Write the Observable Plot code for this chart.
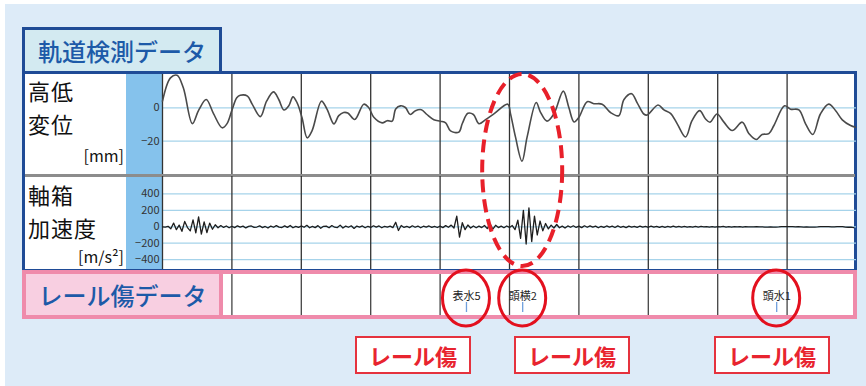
<!DOCTYPE html>
<html><head><meta charset="utf-8">
<script src="https://cdn.jsdelivr.net/npm/d3@7"></script>
<script src="https://cdn.jsdelivr.net/npm/@observablehq/plot@0.6"></script>
<style>
body{margin:0;background:#fff;font-family:"Noto Sans CJK JP","Noto Sans",sans-serif;}
#root{position:relative;width:866px;height:386px;overflow:hidden;}
.abs{position:absolute;box-sizing:border-box;}
.plot{position:absolute;}
</style></head><body><div id="root"></div>
<script>
// ---- data ----
const heightPos = [0,11.5,21,30,43,52,63,73.5,86,93,
 100,107,112,122.5,129,141,150,160,167.5,175,
 182,188,194,201,208.5,215.7,229,237,247,254,
 261,267,277,290,297,304.5,316.5,324,331,336,
 343,350,357,364.5,373,381,391,400.5,408,415,
 427,432,440,448,456,465.5,477.5,497.5,501.5,508.5,
 518,525.5,538.5,544.7,554,564,577.5,585.5,593,600,
 612,621.5,633.5,645.5,657.5,665,676,684,693.5,698.5,
 714,722.5,732,741.7,753.7,763,774,782.5,789,799,
 809,821,835.4,845,855.5,864,873.7,881,896.4,905,
 917,926.6,937,948,960,970,979.5,991.5,998.5];
const heightMM = [4,18,19.5,12,-9.5,-1.5,5,-3.5,-12,-9.5,
 -1.5,6,7.5,7,2.4,-5.3,4,9.6,5,-1.3,
 1.2,6.6,3,-5.8,-18,-13.5,4,-0.8,-9.6,-4.7,
 -2.8,-3.1,-7,2.2,0.2,-5.7,-9,-7.7,-8,-0.7,
 1.2,0.2,-4,-1.7,-1.1,-4,-7.1,-8,-9,-13.8,
 -14.6,-9.4,-3.3,-4,-9.5,-7.1,-3.6,2.2,-3.6,-17.3,
 -32,-17.3,3.2,-2.7,-8,-3.6,10,0.2,-8.5,-5.7,
 3.7,2.5,2.2,-2.8,-4.7,5,8.5,3,-3.7,-4.3,
 1.7,-1.2,-3.3,-9.6,-17.5,-7.7,-1.7,-6.7,-8.6,-3.7,
 -8.6,-13.6,-8.6,-15.5,-19,-16,-15.5,-10.6,1.2,-0.8,
 -1.2,-9.6,-16,-3.7,2.2,-1.7,-7.2,-10.6,-11.6];
const accStep = 4; // sampling interval of the acceleration record
const accValues = [
 0,-4,6,-25,45,-35,20,-55,65,-10,-50,85,-75,120,-90,60,-70,45,-30,25,-12,15,-8,10,-12,
 6,-10,12,-4,8,-14,5,10,-8,-3,12,-10,4,-15,9,-6,14,-5,-9,11,-7,16,-12,5,-8,
 10,-6,18,-12,4,-10,14,-18,6,8,-12,15,-5,-10,20,-15,9,-6,12,-20,8,-4,10,-12,6,
 -8,12,-5,10,-12,6,-4,8,-10,55,-45,15,-8,6,-10,12,-6,9,-12,7,-5,10,-8,6,-9,
 8,-10,14,-6,20,-15,130,-125,50,-35,22,-15,10,-12,8,-10,15,-22,35,-30,18,-10,8,-12,10,
 -8,15,-35,80,-140,200,-210,230,-180,130,-100,70,-50,40,-25,20,-15,28,-12,8,-15,10,-6,12,-8,
 8,-10,12,-6,10,-4,8,-12,6,-8,10,-5,7,-9,11,-6,5,-10,8,-4,6,-8,9,-5,4,
 -6,8,-4,6,-8,5,-6,4,-5,7,-4,5,-3,4,-5,3,-4,5,-3,4,-2,3,-4,2,-3,
 3,-2,4,-3,2,-4,3,-2,1,-3,2,-1,0,-2,1,-2,0,-3,-3,-2,-4,-3,-2,2,1,
 2,3,1,-1,2,0,-3,-2,-3,-4,-3,-2,2,3,1,2,0,-1,2,3,1,-4,-6,-5,-10];
const damagePos = [438, 519, 885];
const damageLabels = ["表水5","頭横2","頭水1"];
const heightTicks = [0,-20];
const accTicks = [400,200,0,-200,-400];
const gridPos = [0,100,200,300,400,500,600,700,800,900];
const xDomain = [0,1000];

const heightData = heightPos.map((p,i)=>({pos:p, v:heightMM[i]}));
const accData = accValues.map((v,i)=>({pos:i*accStep, v}));
const damageData = damagePos.map((p,i)=>({pos:p, label:damageLabels[i]}));

const root = document.getElementById("root");
function box(style, html){
  const d = document.createElement("div");
  d.className = "abs";
  Object.assign(d.style, style);
  if (html) d.innerHTML = html;
  root.appendChild(d);
  return d;
}
const FONT = '"Noto Sans CJK JP","Noto Sans",sans-serif';
const BLUE = "#1f4b96";
const PINK = "#ef8bab";

// background
box({left:"5px", top:"4px", width:"861px", height:"382px", background:"#ddebf8"});
// main box
box({left:"22px", top:"71px", width:"835px", height:"201px", border:`3px solid ${BLUE}`, background:"#fff"});
// title box
box({left:"22px", top:"27px", width:"200px", height:"47px", border:`3px solid ${BLUE}`, background:"#d3eaf1",
  display:"flex", alignItems:"center", justifyContent:"center", color:"#1d5aa8", fontSize:"24px", fontWeight:"500"}, "軌道検測データ");
// blue tick strip
box({left:"126px", top:"74px", width:"36px", height:"195px", background:"#85c2ec"});
// panel labels
const lab = {color:"#111", fontSize:"22px", lineHeight:"24px", left:"28px", letterSpacing:"1px"};
box(Object.assign({top:"78px"}, lab), "高低");
box(Object.assign({top:"111px"}, lab), "変位");
box({left:"60px", width:"64px", top:"146px", lineHeight:"18px", textAlign:"right", fontSize:"16px", color:"#111"}, "[mm]");
box(Object.assign({top:"182px"}, lab), "軸箱");
box(Object.assign({top:"215px"}, lab), "加速度");
box({left:"50px", width:"74px", top:"247px", lineHeight:"18px", textAlign:"right", fontSize:"16px", color:"#111"}, "[m/s²]");

const plotStyle = {background:"transparent", fontFamily:FONT, overflow:"visible"};

// panel 1: height displacement
const p1 = Plot.plot({
  width:730, height:100, marginLeft:36, marginRight:0, marginTop:0, marginBottom:0,
  x:{domain:xDomain, axis:null}, y:{domain:[-40,20]},
  style:plotStyle,
  marks:[
    Plot.ruleY(heightTicks,{stroke:"#a6d3ea", strokeWidth:1.2}),
    Plot.ruleX(gridPos,{stroke:"#333", strokeWidth:1.3}),
    Plot.line(heightData,{x:"pos", y:"v", curve:"catmull-rom", stroke:"#4a4a4a", strokeWidth:1.6}),
    Plot.axisY(heightTicks,{tickSize:0, tickPadding:3, fontSize:11, fill:"#333", label:null})
  ]
});
p1.classList.add("plot"); Object.assign(p1.style,{left:"126px", top:"74px"});
root.appendChild(p1);

// separator
box({left:"25px", top:"174px", width:"830px", height:"2.5px", background:"#8c8c8c"});

// panel 2: axle box acceleration
const p2 = Plot.plot({
  width:730, height:93, marginLeft:36, marginRight:0, marginTop:0, marginBottom:0,
  x:{domain:xDomain, axis:null}, y:{domain:[-520,612]},
  style:plotStyle,
  marks:[
    Plot.ruleY(accTicks,{stroke:"#a6d3ea", strokeWidth:1.2}),
    Plot.ruleX(gridPos,{stroke:"#333", strokeWidth:1.3}),
    Plot.line(accData,{x:"pos", y:"v", stroke:"#1e1e1e", strokeWidth:1.3}),
    Plot.axisY(accTicks,{tickSize:0, tickPadding:3, fontSize:11, fill:"#333", label:null})
  ]
});
p2.classList.add("plot"); Object.assign(p2.style,{left:"126px", top:"176px"});
root.appendChild(p2);

// rail damage panel
box({left:"22px", top:"270px", width:"835px", height:"49px", border:`4px solid ${PINK}`, background:"#fff"});
const p3 = Plot.plot({
  width:694, height:41, margin:0,
  x:{domain:xDomain, axis:null}, y:{axis:null},
  style:plotStyle,
  marks:[
    Plot.ruleX(gridPos,{stroke:"#444", strokeWidth:1.3}),
    Plot.ruleX(damageData,{x:"pos", insetTop:28, insetBottom:3, stroke:"#6f9fdc", strokeWidth:1.3}),
    Plot.text(damageData,{x:"pos", text:"label", frameAnchor:"top", dy:18, fontSize:11, fill:"#222"})
  ]
});
p3.classList.add("plot"); Object.assign(p3.style,{left:"162px", top:"274px"});
root.appendChild(p3);
box({left:"22px", top:"270px", width:"201px", height:"49px", border:`4px solid ${PINK}`, background:"#f8cfe1",
  display:"flex", alignItems:"center", justifyContent:"center", color:"#1d5aa8", fontSize:"24px", fontWeight:"500"}, "レール傷データ");

// red annotation boxes
[355,514,714].forEach(l=>{
  box({left:l+"px", top:"336px", width:"116px", height:"38px", border:"2px solid #e5323e", background:"#fff",
    display:"flex", alignItems:"center", justifyContent:"center", color:"#e8242f", fontSize:"22px", fontWeight:"bold"}, "レール傷");
});

// overlay ellipses positioned through the x scale
const sx = p3.scale("x");
const svg = d3.select(root).append("svg").attr("width",866).attr("height",386)
  .style("position","absolute").style("left","0").style("top","0").style("pointer-events","none");
damagePos.forEach(p=>{
  svg.append("ellipse").attr("cx",162+sx.apply(p)).attr("cy",298).attr("rx",23.5).attr("ry",28)
    .attr("fill","none").attr("stroke","#e3101e").attr("stroke-width",3);
});
svg.append("ellipse").attr("cx",162+sx.apply(damagePos[1])).attr("cy",170).attr("rx",40).attr("ry",96)
  .attr("fill","none").attr("stroke","#e8202a").attr("stroke-width",4).attr("stroke-dasharray","13 7");
</script></body></html>
